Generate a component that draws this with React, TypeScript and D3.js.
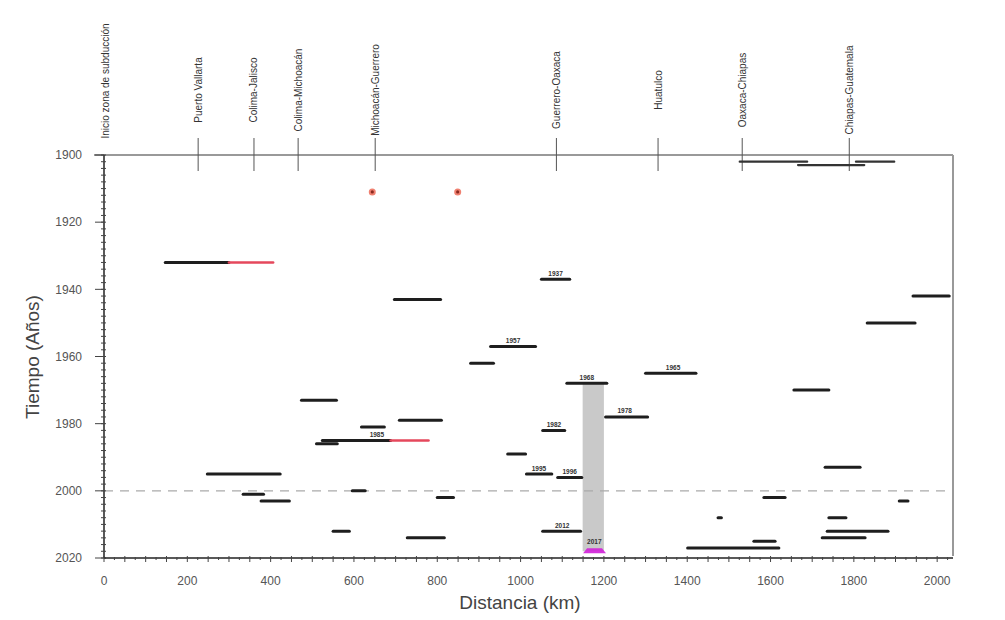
import React from "react";
import * as d3 from "d3";

// ---------- data ----------
const xTicks = [0, 200, 400, 600, 800, 1000, 1200, 1400, 1600, 1800, 2000];
const yTicks = [1900, 1920, 1940, 1960, 1980, 2000, 2020];

const regionNames = [
  "Inicio zona de subducción",
  "Puerto Vallarta",
  "Colima-Jalisco",
  "Colima-Michoacán",
  "Michoacán-Guerrero",
  "Guerrero-Oaxaca",
  "Huatulco",
  "Oaxaca-Chiapas",
  "Chiapas-Guatemala",
];
const regionKm = [0, 226, 360, 466, 651, 1086, 1330, 1532, 1789];

// [start km, end km, year]
const blackSegments: [number, number, number][] = [
  [1526, 1688, 1902],
  [1666, 1825, 1903],
  [1805, 1897, 1902],
  [147, 300, 1932],
  [1050, 1118, 1937],
  [697, 808, 1943],
  [1942, 2029, 1942],
  [1832, 1947, 1950],
  [928, 1036, 1957],
  [880, 935, 1962],
  [1300, 1421, 1965],
  [1111, 1207, 1968],
  [1656, 1740, 1970],
  [474, 558, 1973],
  [1204, 1305, 1978],
  [709, 810, 1979],
  [618, 673, 1981],
  [1053, 1106, 1982],
  [524, 688, 1985],
  [510, 560, 1986],
  [969, 1012, 1989],
  [1731, 1815, 1993],
  [248, 423, 1995],
  [1014, 1075, 1995],
  [1089, 1147, 1996],
  [596, 627, 2000],
  [334, 383, 2001],
  [800, 839, 2002],
  [1584, 1635, 2002],
  [377, 445, 2003],
  [1909, 1930, 2003],
  [1474, 1482, 2008],
  [1740, 1781, 2008],
  [550, 589, 2012],
  [1053, 1144, 2012],
  [1736, 1882, 2012],
  [728, 817, 2014],
  [1724, 1827, 2014],
  [1560, 1611, 2015],
  [1401, 1620, 2017],
];
const redSegments: [number, number, number][] = [
  [300, 406, 1932],
  [688, 779, 1985],
];
const magentaSegment: [number, number, number] = [1150, 1205, 2018];
const redDots: [number, number][] = [
  [644, 1911],
  [849, 1911],
];
// [label, center km, year of segment]
const yearLabels: [string, number, number][] = [
  ["1937", 1084, 1937],
  ["1957", 982, 1957],
  ["1965", 1366, 1965],
  ["1968", 1159, 1968],
  ["1978", 1250, 1978],
  ["1982", 1080, 1982],
  ["1985", 655, 1985],
  ["1995", 1044, 1995],
  ["1996", 1118, 1996],
  ["2012", 1100, 2012],
  ["2017", 1177, 2017],
];
const grayBand = { startKm: 1149, endKm: 1200, fromYear: 1968, toYear: 2018 };
const referenceYear = 2000;

// ---------- chart ----------
export default function App() {
  const x = d3.scaleLinear().domain([0, 2038]).range([104, 953]);
  const y = d3.scaleLinear().domain([1900, 2020]).range([155, 558]);
  const font = "'Liberation Sans', Arial, sans-serif";

  const minorY = d3.range(1900, 2021, 2);
  const minorX = d3.range(0, 2026, 25);

  const mx0 = x(magentaSegment[0]);
  const mx1 = x(magentaSegment[1]);
  const my = y(magentaSegment[2]);

  return (
    <svg
      width={1005}
      height={620}
      style={{ position: "absolute", left: 0, top: 0, background: "#fff" }}
      fontFamily={font}
    >
      {/* gray band */}
      <rect
        x={x(grayBand.startKm)}
        y={y(grayBand.fromYear)}
        width={x(grayBand.endKm) - x(grayBand.startKm)}
        height={y(grayBand.toYear) - y(grayBand.fromYear)}
        fill="#c9c9c9"
      />

      {/* reference dashed line */}
      <line
        x1={x(0)}
        x2={x(2038)}
        y1={y(referenceYear)}
        y2={y(referenceYear)}
        stroke="#aaa"
        strokeWidth={1.3}
        strokeDasharray="9,7"
      />

      {/* frame top and right */}
      <line x1={94} x2={x(2038)} y1={y(1900)} y2={y(1900)} stroke="#999" strokeWidth={2} />
      <line x1={x(2038)} x2={x(2038)} y1={y(1900)} y2={y(2019.4)} stroke="#999" strokeWidth={2} />

      {/* region ticks and labels */}
      {regionNames.map((name, i) => {
        const px = x(regionKm[i]);
        const isFirst = i === 0;
        return (
          <g key={name}>
            {!isFirst && (
              <line x1={px} x2={px} y1={138} y2={171} stroke="#555" strokeWidth={1} />
            )}
            <text
              transform={`translate(${px + (isFirst ? 1 : 0)},${isFirst ? 81 : 90}) rotate(-90)`}
              textAnchor="middle"
              dy="0.35em"
              fontSize={10}
              fill="#333"
            >
              {name}
            </text>
          </g>
        );
      })}

      {/* left axis */}
      <line x1={x(0)} x2={x(0)} y1={y(1900)} y2={y(2020)} stroke="#222" strokeWidth={1.5} />
      {minorY.map((v) => (
        <line key={"my" + v} x1={x(0) - 3} x2={x(0) + 2} y1={y(v)} y2={y(v)} stroke="#444" strokeWidth={1} />
      ))}
      {yTicks.map((v) => (
        <g key={"yt" + v}>
          <line x1={x(0) - 9} x2={x(0)} y1={y(v)} y2={y(v)} stroke="#444" strokeWidth={1} />
          <text x={82} y={y(v)} dy="0.35em" textAnchor="end" fontSize={12} fill="#555">
            {v}
          </text>
        </g>
      ))}

      {/* bottom axis */}
      <line x1={x(0)} x2={x(2038)} y1={y(2020)} y2={y(2020)} stroke="#222" strokeWidth={1.5} />
      {minorX.map((v) => (
        <line
          key={"mx" + v}
          x1={x(v)}
          x2={x(v)}
          y1={y(2020) - (v % 50 === 0 ? 2 : 1)}
          y2={y(2020) + (v % 50 === 0 ? 4 : 2)}
          stroke="#444"
          strokeWidth={1}
        />
      ))}
      {xTicks.map((v) => (
        <text key={"xt" + v} x={x(v)} y={585} textAnchor="middle" fontSize={12} fill="#555">
          {v}
        </text>
      ))}

      {/* axis titles */}
      <text x={520} y={609} textAnchor="middle" fontSize={19} fill="#444">
        Distancia (km)
      </text>
      <text
        transform={`translate(39,357) rotate(-90)`}
        textAnchor="middle"
        fontSize={19}
        fill="#444"
      >
        Tiempo (Años)
      </text>

      {/* rupture segments */}
      {blackSegments.map(([s, e, yr], i) => (
        <line
          key={"b" + i}
          x1={x(s)}
          x2={x(e)}
          y1={y(yr)}
          y2={y(yr)}
          stroke={yr < 1905 ? "#333" : "#1e1e1e"}
          strokeWidth={yr < 1905 ? 2.2 : 3}
          strokeLinecap="round"
        />
      ))}
      {redSegments.map(([s, e, yr], i) => (
        <line
          key={"r" + i}
          x1={x(s)}
          x2={x(e)}
          y1={y(yr)}
          y2={y(yr)}
          stroke="#e5485c"
          strokeWidth={2.6}
          strokeLinecap="round"
        />
      ))}

      {/* magenta rupture (mound) */}
      <path
        d={`M${mx0},${my + 2} L${mx0 + 4},${my - 3} L${mx1 - 4},${my - 3} L${mx1},${my + 2} Z`}
        fill="#d020d8"
        opacity={0.9}
      />

      {/* red dots */}
      {redDots.map(([k, yr], i) => (
        <g key={"d" + i}>
          <circle cx={x(k)} cy={y(yr)} r={3.5} fill="#f08070" />
          <circle cx={x(k)} cy={y(yr)} r={1.6} fill="#8a2a20" />
        </g>
      ))}

      {/* year labels */}
      {yearLabels.map(([t, k, yr]) => (
        <text
          key={"yl" + t}
          x={x(k)}
          y={y(yr) - 3.5}
          textAnchor="middle"
          fontSize={6.5}
          fontWeight="bold"
          fill="#333"
        >
          {t}
        </text>
      ))}
    </svg>
  );
}
